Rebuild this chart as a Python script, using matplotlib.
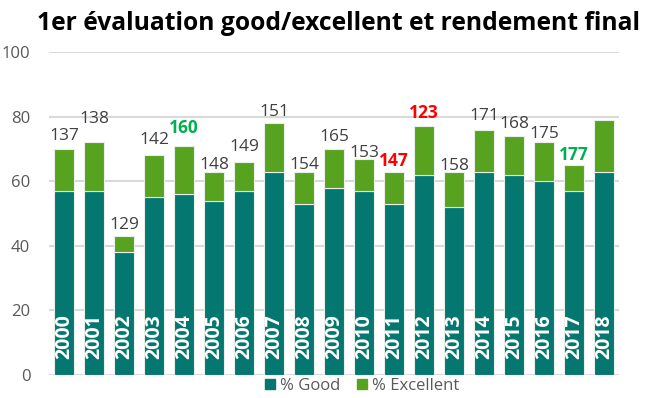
import matplotlib

matplotlib.use("Agg")
import matplotlib.pyplot as plt
import numpy as np
from matplotlib.patches import Patch

years = [str(y) for y in range(2000, 2019)]
good = [57, 57, 38, 55, 56, 54, 57, 63, 53, 58, 57, 53, 62, 52, 63, 62, 60, 57, 63]
total = [70, 72, 43, 68, 71, 63, 66, 78, 63, 70, 67, 63, 77, 63, 76, 74, 72, 65, 79]
rendement = ["137", "138", "129", "142", "160", "148", "149", "151", "154", "165",
             "153", "147", "123", "158", "171", "168", "175", "177", ""]
label_colors = ["#404040"] * 4 + ["#00b050"] + ["#404040"] * 6 + ["#ff0000", "#ff0000"] \
    + ["#404040"] * 4 + ["#00b050", "#404040"]

excellent = [t - g for t, g in zip(total, good)]

# Excel nudged the data labels around to avoid collisions
label_offsets = [2.9, 6, 2.3, 3.4, 4, 0.9, 3.2, 2.3, 0.9, 2.3, 0.5, 1.6, 2.7, 0.6,
                 2.8, 2.6, 1.5, 1.5, 0]

GOOD_COLOR = "#037770"
EXC_COLOR = "#57a31f"

plt.rcParams["font.family"] = ["Open Sans", "DejaVu Sans"]

fig = plt.figure(figsize=(6.5, 3.98), dpi=100)
ax = fig.add_axes([49 / 650, 1 - 375 / 398, 570 / 650, 323 / 398])

x = np.arange(len(years))
ax.bar(x, good, width=0.667, color=GOOD_COLOR, edgecolor="#e8eee8", linewidth=0.8, zorder=3)
ax.bar(x, excellent, width=0.667, bottom=good, color=EXC_COLOR, edgecolor="#e8eee8",
       linewidth=0.8, zorder=3)

for i, yr in enumerate(years):
    ax.text(x[i], 5, yr, rotation=90, ha="center", va="bottom", color="white",
            fontsize=14, fontweight="bold", zorder=4)
    if rendement[i]:
        bold = label_colors[i] != "#404040"
        ax.text(x[i], total[i] + label_offsets[i], rendement[i], ha="center", va="baseline",
                color=label_colors[i], fontsize=12.5, fontweight="bold" if bold else "normal",
                zorder=4)

ax.set_xlim(-0.5, len(years) - 0.5)
ax.set_ylim(0, 100)
ax.set_yticks([0, 20, 40, 60, 80, 100])
ax.set_xticks([])
ax.yaxis.grid(True, color="#d9d9d9", linewidth=1.5, zorder=0)
ax.set_axisbelow(True)
for s in ax.spines.values():
    s.set_visible(False)
ax.tick_params(axis="y", length=0, labelsize=12, labelcolor="#595959", pad=13.5)

fig.text(0.521, 1 - 24 / 398, "1er évaluation good/excellent et rendement final",
         ha="center", va="center", fontsize=17.7, fontweight="bold", color="black")

handles = [Patch(color=GOOD_COLOR), Patch(color=EXC_COLOR)]
fig.legend(handles, ["% Good", "% Excellent"], loc="center", bbox_to_anchor=(0.557, 1 - 386 / 398),
           ncol=2, frameon=False, fontsize=12, labelcolor="#595959", handlelength=0.6,
           handleheight=0.6, handletextpad=0.3, columnspacing=1.0)

fig.savefig("out.png", dpi=100)
